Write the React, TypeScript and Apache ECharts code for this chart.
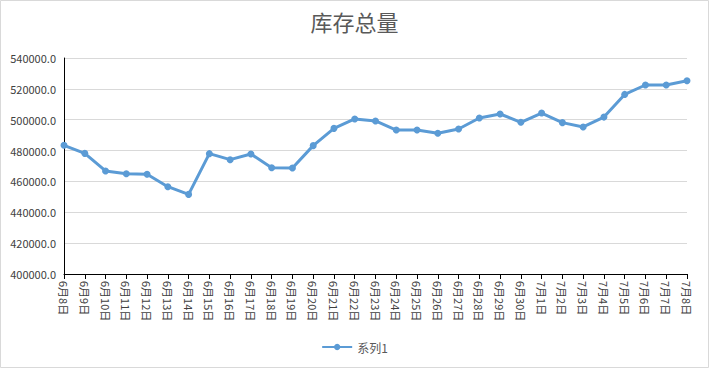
import React, { useEffect, useRef } from "react";
import * as echarts from "echarts";

const categories = [
  "6月8日", "6月9日", "6月10日", "6月11日", "6月12日", "6月13日", "6月14日", "6月15日",
  "6月16日", "6月17日", "6月18日", "6月19日", "6月20日", "6月21日", "6月22日", "6月23日",
  "6月24日", "6月25日", "6月26日", "6月27日", "6月28日", "6月29日", "6月30日",
  "7月1日", "7月2日", "7月3日", "7月4日", "7月5日", "7月6日", "7月7日", "7月8日",
];

const series1 = [
  483400, 478200, 466800, 465000, 464600, 456600, 451600, 478000,
  474100, 477800, 468900, 468700, 483200, 494400, 500500, 499200,
  493300, 493300, 491200, 494000, 501100, 503700, 498300,
  504300, 498100, 495300, 501700, 516400, 522500, 522500, 525300,
];

const titleText = "库存总量";
const seriesName = "系列1";

export default function App() {
  const ref = useRef<HTMLDivElement>(null);
  useEffect(() => {
    if (!ref.current) return;
    const chart = echarts.init(ref.current, null, { renderer: "svg" });
    chart.setOption({
      animation: false,
      backgroundColor: "#ffffff",
      textStyle: { fontFamily: "'Noto Sans CJK SC', 'Noto Sans', sans-serif" },
      title: {
        text: titleText,
        left: "center",
        top: 5,
        textStyle: {
          fontSize: 22,
          fontWeight: "normal",
          color: "#595959",
          fontFamily: "'Noto Sans CJK SC', sans-serif",
        },
      },
      graphic: [
        {
          type: "rect",
          shape: { x: 0.5, y: 0.5, width: 708, height: 367 },
          style: { fill: "none", stroke: "#d9d9d9", lineWidth: 1 },
          silent: true,
          z: -10,
        },
      ],
      legend: {
        bottom: 10,
        left: "center",
        itemWidth: 30,
        itemHeight: 8,
        textStyle: { color: "#595959", fontSize: 12 },
        data: [seriesName],
      },
      grid: { left: 64, right: 22, top: 58, bottom: 94, containLabel: false },
      xAxis: {
        type: "category",
        data: categories,
        boundaryGap: false,
        axisLine: { show: true, lineStyle: { color: "#000000", width: 1 } },
        axisTick: { show: true, length: 5, lineStyle: { color: "#000000" } },
        axisLabel: {
          rotate: -90,
          interval: 0,
          fontSize: 11,
          color: "#404040",
          margin: 7,
        },
      },
      yAxis: {
        type: "value",
        min: 400000,
        max: 540000,
        interval: 20000,
        axisLine: { show: true, lineStyle: { color: "#000000", width: 1 } },
        axisTick: { show: false },
        splitLine: { show: true, lineStyle: { color: "#d9d9d9", width: 1 } },
        axisLabel: {
          fontSize: 11,
          color: "#404040",
          margin: 8,
          formatter: (v: number) => v.toFixed(1),
        },
      },
      series: [
        {
          name: seriesName,
          type: "line",
          data: series1,
          symbol: "circle",
          symbolSize: 7,
          lineStyle: { color: "#5b9bd5", width: 3 },
          itemStyle: { color: "#5b9bd5" },
        },
      ],
    });
    return () => chart.dispose();
  }, []);
  return (
    <div
      ref={ref}
      style={{ position: "absolute", left: 0, top: 0, width: 709, height: 368 }}
    />
  );
}
